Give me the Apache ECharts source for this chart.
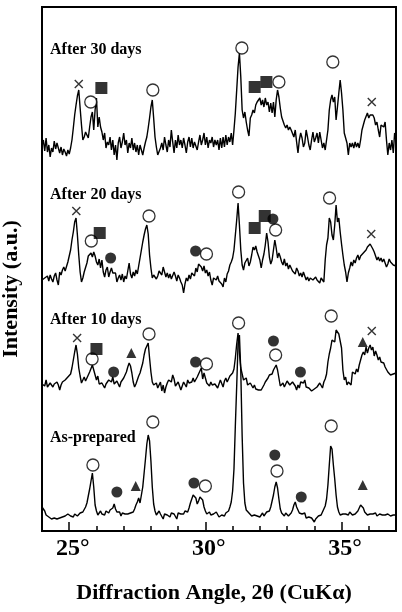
<!DOCTYPE html>
<html>
<head>
<meta charset="utf-8">
<script src="https://cdn.jsdelivr.net/npm/echarts@6/dist/echarts.min.js"></script>
<style>
  html, body { margin: 0; padding: 0; background: #fff; }
  #chart { width: 402px; height: 612px; }
</style>
</head>
<body>
<div id="chart"></div>
<script>
// 2θ sampling of every pattern: 24.00° ... 37.00°, one value per 0.05°
const angleStart = 24;
const angleStep = 0.05;

// intensities (a.u.), one row per degree (20 values), last value is 37.00°
const after30 = [
  14,20,9,22,8,15,3,12,8,19,11,17,18,7,13,5,11,8,4,10,
  6,12,20,32,45,55,64,70,52,35,20,23,28,27,22,33,43,48,30,50,
  62,33,43,33,28,20,27,12,18,15,23,10,20,5,15,0,17,23,12,18,
  27,15,20,7,17,12,22,10,17,8,15,5,15,13,5,12,18,23,32,42,
  53,60,42,23,13,5,3,12,17,10,23,15,8,20,13,30,18,7,20,12,
  25,15,20,12,22,15,7,18,23,13,22,12,18,20,10,18,25,15,20,27,
  15,23,12,20,17,23,13,20,15,20,10,22,12,23,13,25,15,23,18,27,
  15,30,47,70,93,107,83,50,42,48,38,30,24,42,45,50,47,55,58,57,
  62,55,60,53,62,55,58,48,57,47,58,43,60,70,63,52,43,42,35,32,
  35,30,33,30,32,23,30,18,7,20,27,22,13,17,30,23,15,10,20,28,
  18,22,27,17,28,20,12,17,10,12,30,50,60,65,58,63,40,53,67,80,
  67,50,27,22,17,5,17,13,17,12,18,13,17,12,20,30,35,40,42,47,
  42,45,43,45,42,35,38,30,23,35,37,33,38,20,5,17,10,20,7,27,
  20
];
const after20 = [
  10,8,12,10,14,9,15,11,8,14,17,10,5,18,15,20,23,19,18,28,
  30,40,50,58,68,72,55,35,18,8,12,18,16,27,34,36,37,33,38,34,
  28,25,31,22,30,18,13,20,23,13,18,22,17,15,17,8,12,15,10,16,
  8,14,11,19,27,16,12,18,14,20,16,24,32,40,48,55,61,65,56,35,
  22,12,15,17,11,14,19,21,15,23,18,13,17,12,16,11,13,18,14,9,
  15,12,8,5,-3,6,12,9,15,11,17,19,14,22,18,26,28,23,19,24,
  17,20,14,18,10,5,12,14,10,14,9,11,6,3,12,8,16,19,25,28,
  32,40,55,70,87,65,40,25,20,27,25,32,24,28,35,43,40,44,38,34,
  30,22,30,36,45,57,48,33,26,30,40,50,42,32,37,33,28,25,31,24,
  27,21,25,24,19,20,16,22,19,14,17,13,18,14,10,13,9,12,14,10,
  8,13,10,11,7,12,10,8,30,45,52,72,68,55,50,65,85,68,72,58,
  46,35,25,18,8,17,22,28,24,30,27,32,35,30,34,33,37,38,40,43,
  42,46,47,41,38,34,30,33,29,32,28,31,27,23,26,31,28,30,25,27,
  24
];
const after10 = [
  16,18,14,20,13,12,17,15,13,16,17,18,15,10,15,18,17,20,19,23,
  21,26,32,40,48,55,46,32,24,17,20,23,19,22,24,28,27,35,30,25,
  20,24,16,14,17,15,12,16,17,20,19,18,23,16,17,19,20,13,18,20,
  22,24,28,33,37,34,27,18,13,16,18,24,27,29,37,45,51,54,57,42,
  28,18,15,13,17,12,15,18,9,15,7,13,17,20,22,18,25,21,14,12,
  18,16,10,14,18,16,13,20,17,16,18,22,18,20,23,26,29,32,21,27,
  22,17,15,14,18,15,17,16,18,12,16,20,18,13,19,22,18,21,24,22,
  27,31,42,56,67,47,32,26,20,18,22,15,14,17,16,12,15,11,13,10,
  8,10,12,15,18,20,22,25,27,26,30,32,35,30,22,14,12,17,13,16,
  19,21,15,13,18,17,14,10,15,12,18,16,17,20,13,15,12,10,9,7,
  11,10,13,15,17,19,12,18,21,26,38,46,52,60,62,58,70,72,66,68,
  52,30,20,23,15,18,20,15,28,29,26,31,28,35,40,45,48,45,53,47,
  52,55,50,53,44,49,45,40,43,38,40,37,33,35,28,30,25,27,26,28,
  27
];
const asPrepared = [
  24,22,20,16,17,14,15,12,11,13,15,12,14,13,15,14,12,15,13,17,
  18,15,16,14,17,16,15,16,18,17,19,21,24,28,35,42,50,58,44,26,
  20,16,18,20,17,19,16,20,22,18,21,19,23,27,22,19,17,19,15,18,
  20,17,19,17,16,18,17,19,22,26,29,33,28,36,44,58,72,87,96,90,
  70,44,27,20,16,18,20,17,15,12,17,19,16,17,14,18,20,17,15,12,
  18,16,17,19,17,20,21,19,23,28,32,36,37,33,27,30,34,36,31,24,
  20,17,16,19,16,14,17,15,19,17,14,12,16,17,15,18,16,20,24,29,
  40,62,105,145,188,196,160,95,48,28,21,19,18,17,15,13,16,18,15,17,
  14,16,18,15,17,19,21,20,24,30,36,44,49,43,32,22,18,16,15,18,
  17,15,16,18,21,26,29,24,22,18,16,17,15,18,13,15,14,16,13,11,
  9,12,14,15,17,16,19,22,25,32,46,66,85,82,66,52,36,24,19,16,
  18,17,15,17,18,16,19,17,16,18,17,19,20,22,26,28,23,19,17,16,
  18,17,15,17,16,18,15,16,17,15,16,18,16,15,17,16,15,17,16,15,
  16
];

const traceNames = ['After 30 days', 'After 20 days', 'After 10 days', 'As-prepared'];
const traceShifts = [371, 241, 131, 0];   // vertical stacking of the patterns

// peak markers [2θ, stacked intensity]
const openCircles = [
  [25.79,429],[28.07,441],[31.34,483],[32.70,449],[34.68,469],
  [25.81,290],[27.93,315],[30.04,277],[31.22,339],[32.58,301],[34.56,333],
  [25.84,172],[27.93,197],[30.04,167],[31.22,208],[32.58,176],[34.62,215],
  [25.87,66],[28.07,109],[30.00,45],[32.63,60],[34.62,105]
];
const filledCircles = [
  [26.52,273],[29.64,280],[32.48,312],
  [26.63,159],[29.64,169],[32.50,190],[33.49,159],
  [26.75,39],[29.58,48],[32.55,76],[33.52,34]
];
const filledSquares = [
  [26.18,443],[31.81,444],[32.24,449],
  [26.12,298],[31.81,303],[32.18,315],
  [26.00,182]
];
const filledTriangles = [
  [27.28,178],[35.78,189],
  [27.44,45],[35.78,46]
];
const crosses = [
  [25.35,447],[36.11,429],
  [25.26,320],[36.09,297],
  [25.29,193],[36.11,200]
];

const majorTicks = [25, 30, 35];

const serif = '"Liberation Serif", "Times New Roman", serif';

function stacked(vals, shift) {
  return vals.map((v, i) => [+(angleStart + i * angleStep).toFixed(2), v + shift]);
}

const patterns = [after30, after20, after10, asPrepared];

const lineSeries = patterns.map((vals, k) => ({
  name: traceNames[k],
  type: 'line',
  data: stacked(vals, traceShifts[k]),
  showSymbol: false,
  lineStyle: { color: '#000', width: 1.4 },
  z: 2
}));

const markerSeries = [
  { data: openCircles, symbol: 'circle', symbolSize: 12,
    itemStyle: { color: '#fff', borderColor: '#000', borderWidth: 1.3 } },
  { data: filledCircles, symbol: 'circle', symbolSize: 11,
    itemStyle: { color: '#000' } },
  { data: filledSquares, symbol: 'rect', symbolSize: 12,
    itemStyle: { color: '#000' } },
  { data: filledTriangles, symbol: 'triangle', symbolSize: 10,
    itemStyle: { color: '#000' } },
  { data: crosses, symbol: 'path://M0,0L10,10M10,0L0,10', symbolSize: 8,
    itemStyle: { color: 'transparent', borderColor: '#000', borderWidth: 1.4 } }
].map(s => Object.assign({ type: 'scatter', z: 5, silent: true }, s));

const chart = echarts.init(document.getElementById('chart'));

chart.setOption({
  animation: false,
  backgroundColor: '#fff',
  grid: {
    left: 42, right: 6, top: 7, bottom: 81,
    show: true, borderColor: '#000', borderWidth: 2
  },
  xAxis: [
    {
      type: 'value', min: 24, max: 37, interval: 1, position: 'bottom',
      axisLine: { show: false },
      axisTick: { inside: true, length: 5, lineStyle: { color: '#000', width: 1.5 } },
      axisLabel: { show: false },
      splitLine: { show: false }
    },
    {
      type: 'value', min: 24, max: 37, position: 'bottom',
      axisLine: { show: false },
      axisTick: { inside: true, length: 9, customValues: majorTicks,
        lineStyle: { color: '#000', width: 1.5 } },
      axisLabel: {
        customValues: majorTicks,
        formatter: v => v + '°',
        color: '#000', fontFamily: serif, fontWeight: 'bold', fontSize: 24,
        margin: 6, padding: [0, 0, 0, 7]
      },
      splitLine: { show: false }
    }
  ],
  yAxis: { type: 'value', min: 0, max: 524, show: false },
  series: lineSeries.concat(markerSeries),
  graphic: [
    { type: 'text', x: 50, y: 50, style: { text: traceNames[0], font: 'bold 16px ' + serif, fill: '#000', verticalAlign: 'middle' } },
    { type: 'text', x: 50, y: 195, style: { text: traceNames[1], font: 'bold 16px ' + serif, fill: '#000', verticalAlign: 'middle' } },
    { type: 'text', x: 50, y: 320, style: { text: traceNames[2], font: 'bold 16px ' + serif, fill: '#000', verticalAlign: 'middle' } },
    { type: 'text', x: 50, y: 438, style: { text: traceNames[3], font: 'bold 16px ' + serif, fill: '#000', verticalAlign: 'middle' } },
    { type: 'text', x: 214, y: 593,
      style: { text: 'Diffraction Angle, 2θ (CuKα)', font: 'bold 22px ' + serif, fill: '#000', align: 'center', verticalAlign: 'middle' } },
    { type: 'text', x: 11, y: 289, rotation: Math.PI / 2,
      style: { text: 'Intensity (a.u.)', font: 'bold 22px ' + serif, fill: '#000', align: 'center', verticalAlign: 'middle' } }
  ]
});
</script>
</body>
</html>
